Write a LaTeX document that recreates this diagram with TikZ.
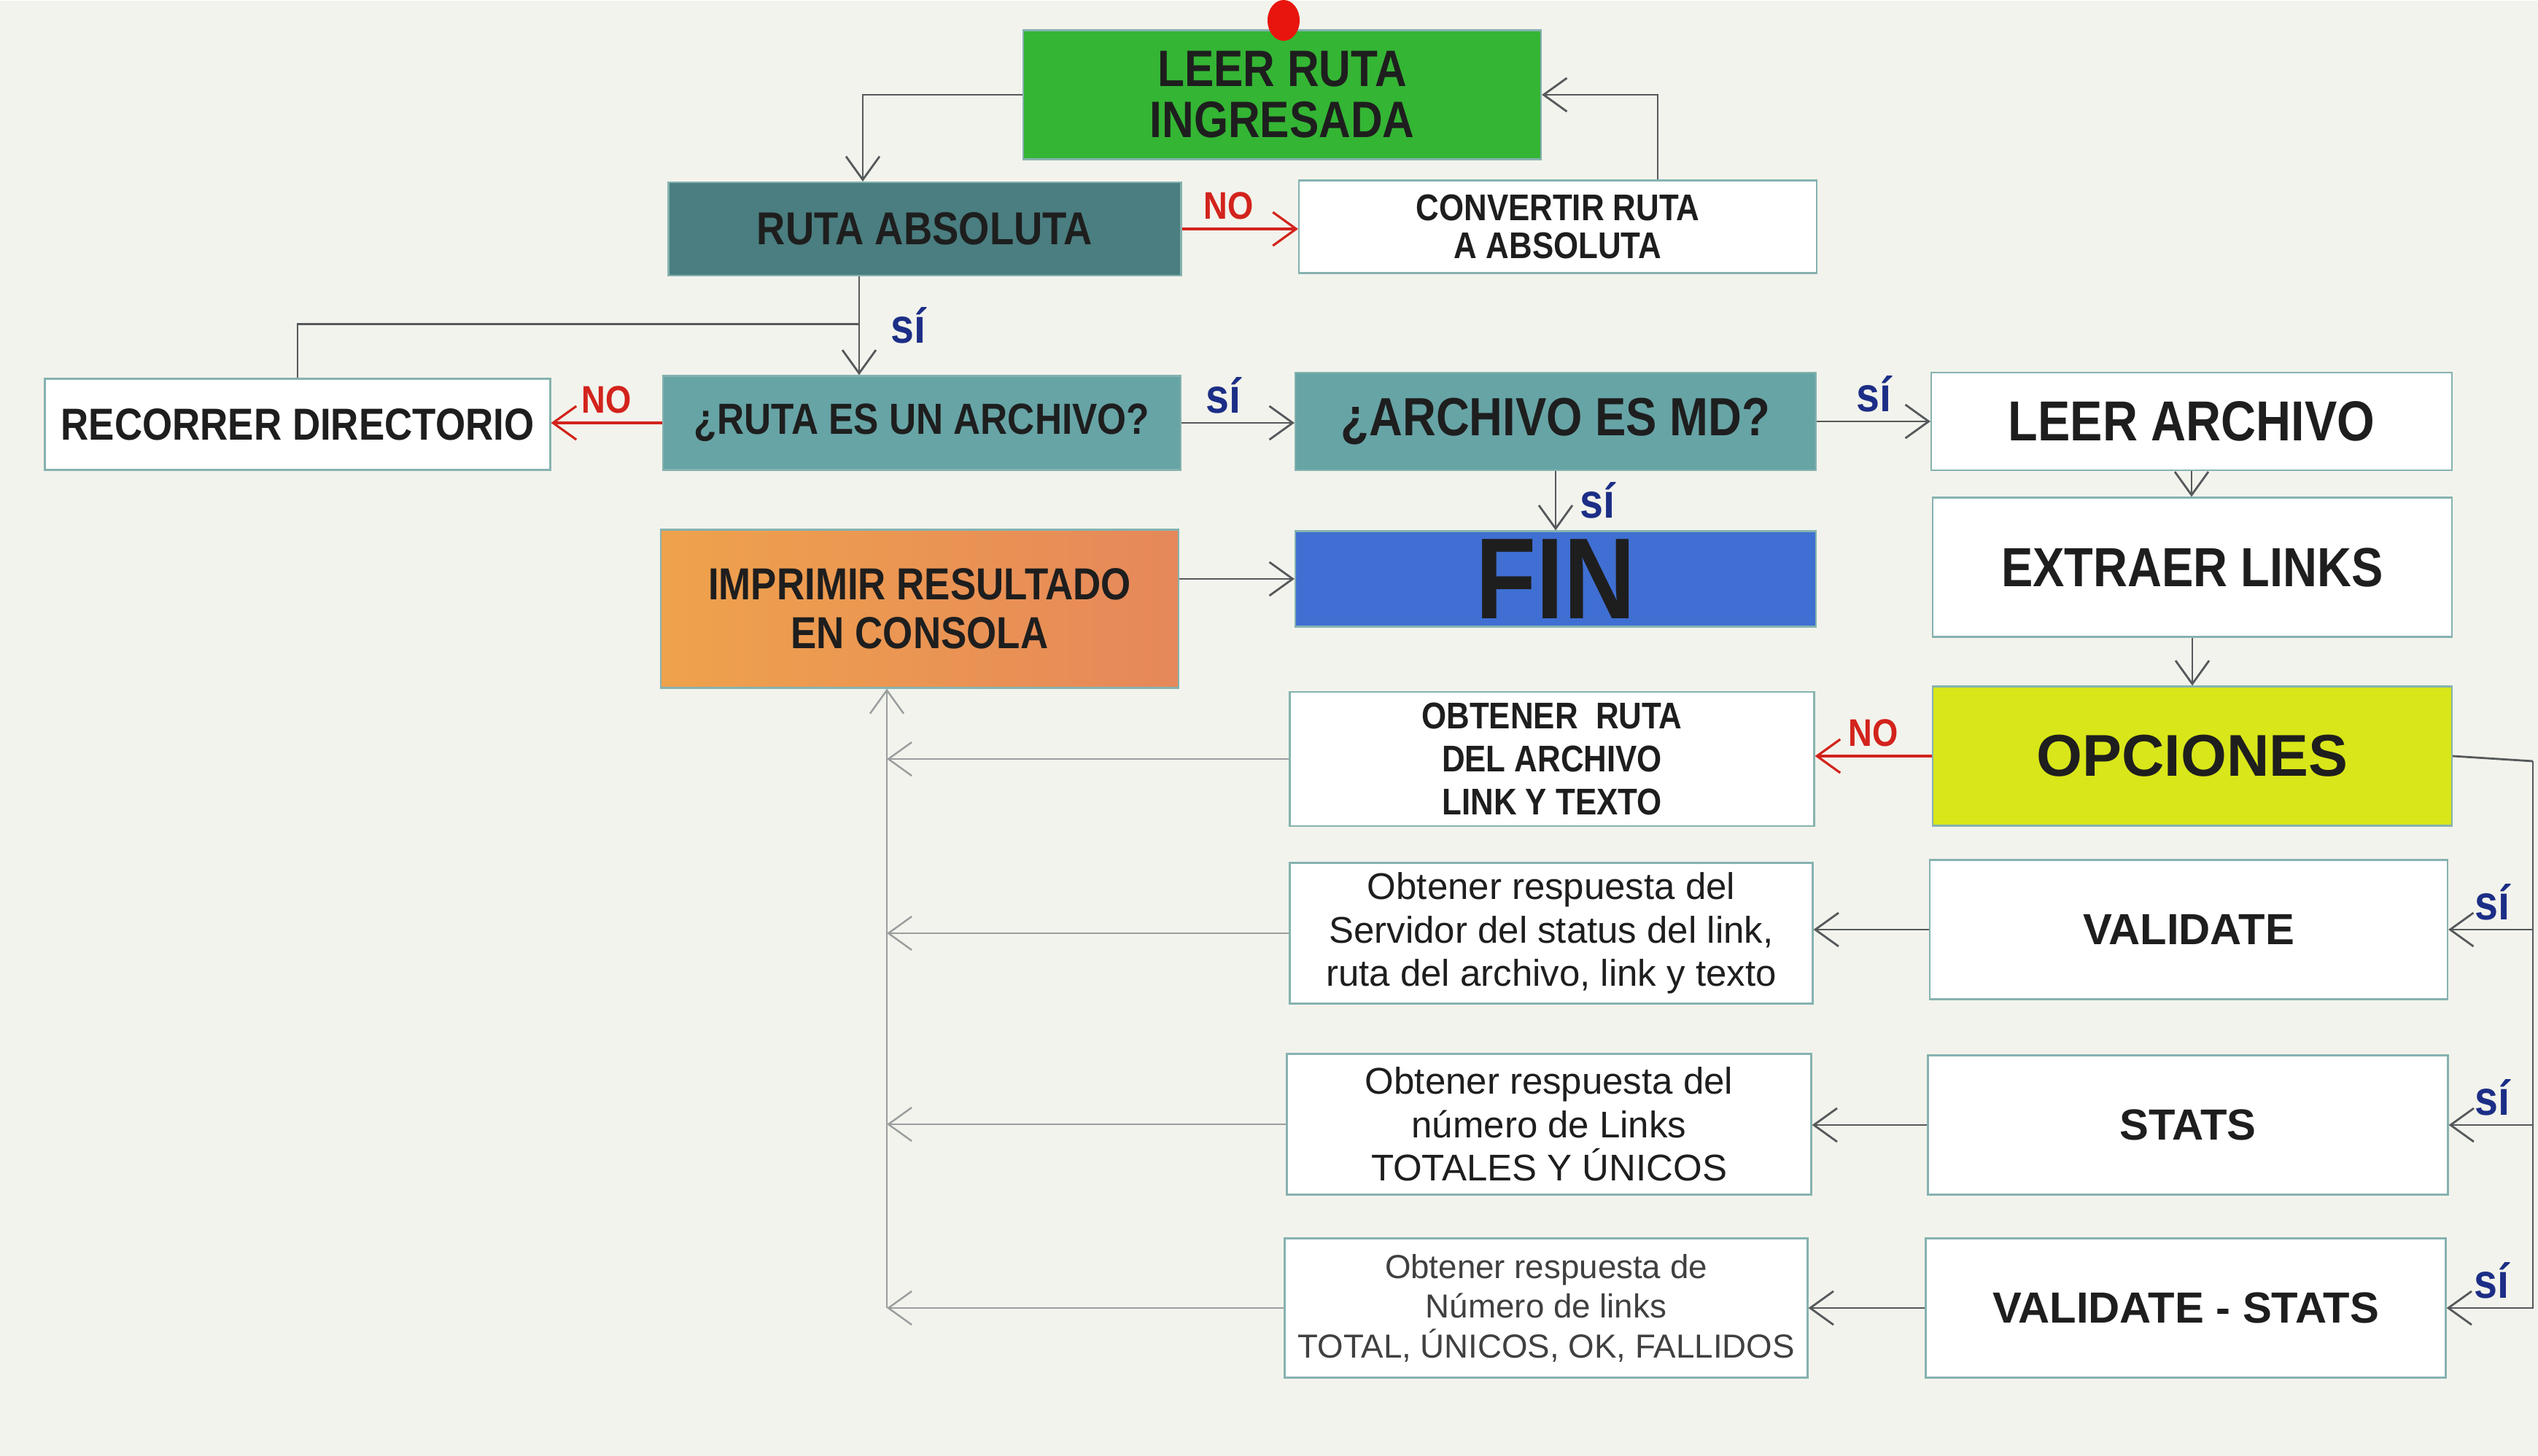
\documentclass[tikz,border=0pt]{standalone}
\usepackage{fontspec}
\setmainfont{Liberation Sans}
\newfontfamily\condfont{Liberation Sans}[FakeStretch=0.86]
\usetikzlibrary{arrows.meta}
\definecolor{Canvas}{HTML}{F2F3EC}
\definecolor{BoxLine}{HTML}{86B2B0}
\definecolor{LeafGreen}{HTML}{34B534}
\definecolor{SlateTeal}{HTML}{4A7E80}
\definecolor{QueryTeal}{HTML}{67A4A6}
\definecolor{FinBlue}{HTML}{3F6FD2}
\definecolor{OptLime}{HTML}{D9E619}
\definecolor{PrintOrange}{HTML}{EFA24C}
\definecolor{PrintYellow}{HTML}{F4CC5C}
\definecolor{PrintRed}{HTML}{E6885A}
\definecolor{WireGrey}{HTML}{55595B}
\definecolor{BusGrey}{HTML}{9A9E9E}
\definecolor{NoRed}{HTML}{D2231C}
\definecolor{SiBlue}{HTML}{1C2E86}
\definecolor{DotRed}{HTML}{E8150F}
\definecolor{InkDark}{HTML}{1E1E1E}

\begin{document}
\begin{tikzpicture}[>={Straight Barb[length=3.2mm,width=4.6mm]},every node/.style={text=InkDark},
box/.style={draw=BoxLine,line width=.6pt,minimum width=7.1cm,align=center,inner sep=2pt},
wire/.style={->,WireGrey,line width=.8pt},bus/.style={->,BusGrey,line width=.7pt},nowire/.style={->,NoRed,line width=.9pt},
no/.style={font=\condfont\bfseries\fontsize{15}{15}\selectfont,text=NoRed},si/.style={font=\condfont\bfseries\fontsize{19}{19}\selectfont,text=SiBlue}]
\fill[Canvas](0,0)rectangle(34.8,-19.96);
% top row
\node[box,fill=LeafGreen,minimum height=1.77cm,font=\condfont\bfseries\fontsize{20}{20}\selectfont](leer)at(17.58,-1.29){LEER RUTA\\INGRESADA};
\node[box,fill=SlateTeal,minimum width=7.03cm,minimum height=1.28cm,font=\condfont\bfseries\fontsize{18}{18}\selectfont](abs)at(12.68,-3.13){RUTA ABSOLUTA};
\node[box,fill=white,minimum height=1.27cm,font=\condfont\bfseries\fontsize{14.5}{15}\selectfont](conv)at(21.36,-3.10){CONVERTIR RUTA\\A ABSOLUTA};
\node[box,fill=white,minimum width=6.93cm,minimum height=1.25cm,font=\condfont\bfseries\fontsize{17.5}{18}\selectfont](recorrer)at(4.08,-5.81){RECORRER DIRECTORIO};
\node[box,fill=QueryTeal,minimum height=1.29cm,font=\condfont\bfseries\fontsize{17}{17}\selectfont](esarch)at(12.64,-5.79){¿RUTA ES UN ARCHIVO?};
\node[box,fill=QueryTeal,minimum width=7.14cm,minimum height=1.34cm,font=\condfont\bfseries\fontsize{21}{21}\selectfont](esmd)at(21.33,-5.77){¿ARCHIVO ES MD?};
\node[box,fill=white,minimum width=7.14cm,minimum height=1.34cm,font=\condfont\bfseries\fontsize{22}{22}\selectfont](leerarch)at(30.05,-5.77){LEER ARCHIVO};
% middle
\node[box,left color=PrintOrange,middle color=PrintYellow,right color=PrintRed,minimum height=2.17cm,font=\condfont\bfseries\fontsize{17.5}{19}\selectfont](imprimir)at(12.61,-8.34){IMPRIMIR RESULTADO\\EN CONSOLA};
\node[box,fill=FinBlue,minimum width=7.14cm,minimum height=1.31cm,font=\condfont\bfseries\fontsize{45}{45}\selectfont](fin)at(21.33,-7.93){FIN};
\node[box,fill=white,minimum width=7.12cm,minimum height=1.91cm,font=\condfont\bfseries\fontsize{21.5}{22}\selectfont](extraer)at(30.06,-7.77){EXTRAER LINKS};
\node[box,fill=OptLime,minimum width=7.12cm,minimum height=1.91cm,font=\bfseries\fontsize{23}{23}\selectfont](opciones)at(30.06,-10.36){OPCIONES};
\node[box,fill=white,minimum width=7.19cm,minimum height=1.84cm,font=\condfont\bfseries\fontsize{14.5}{16.8}\selectfont](obtruta)at(21.28,-10.40){OBTENER~ RUTA\\DEL ARCHIVO\\LINK Y TEXTO};
% options and answers
\node[box,fill=white,minimum width=7.17cm,minimum height=1.93cm,font=\fontsize{14.5}{17}\selectfont](obtserv)at(21.27,-12.79){Obtener respuesta del\\Servidor del status del link,\\ruta del archivo, link y texto};
\node[box,fill=white,minimum height=1.91cm,font=\bfseries\fontsize{17}{17}\selectfont](validate)at(30.01,-12.74){VALIDATE};
\node[box,fill=white,minimum width=7.19cm,minimum height=1.93cm,font=\fontsize{14.5}{17}\selectfont](obtnum)at(21.24,-15.41){Obtener respuesta del\\número de Links\\TOTALES Y ÚNICOS};
\node[box,fill=white,minimum width=7.13cm,minimum height=1.91cm,font=\bfseries\fontsize{17}{17}\selectfont](stats)at(30.00,-15.42){STATS};
\node[box,fill=white,minimum width=7.17cm,minimum height=1.91cm,text=InkDark!85,font=\fontsize{13}{15.5}\selectfont](obttot)at(21.20,-17.93){Obtener respuesta de\\Número de links\\TOTAL, ÚNICOS, OK, FALLIDOS};
\node[box,fill=white,minimum width=7.13cm,minimum height=1.91cm,font=\bfseries\fontsize{17}{17}\selectfont](valstats)at(29.97,-17.93){VALIDATE - STATS};
\fill[DotRed](17.6,-0.27)ellipse(0.22 and 0.28);
% connectors
\draw[wire](leer.west)-|([xshift=-8.5mm]abs.north);\draw[wire]([xshift=13.7mm]conv.north)|-(leer.east);
\draw[nowire](abs.east)--node[pos=.4,above,no]{NO}(abs.east-|conv.west);
\draw[wire]([xshift=-9mm]abs.south)--node[right=3mm,si]{sí}([xshift=-9mm]abs.south|-esarch.north);
\draw[wire,-](recorrer.north)|-([xshift=-9mm,yshift=7mm]abs.south|-esarch.north);
\draw[nowire](esarch.west)--node[above,no]{NO}(esarch.west-|recorrer.east);
\draw[wire](esarch.east)--node[pos=.37,above,si]{sí}(esarch.east-|esmd.west);\draw[wire](esmd.east)--node[above,si]{sí}(leerarch.west);
\draw[wire](esmd.south)--node[right=2mm,si]{sí}(fin.north);\draw[wire](fin.west-|imprimir.east)--(fin.west);
\draw[wire](leerarch.south)--(leerarch.south|-extraer.north);\draw[wire](extraer.south)--(opciones.north);
\draw[nowire](opciones.west)--node[above,no]{NO}(opciones.west-|obtruta.east);
\coordinate(rbus)at(34.73,-10.43);\draw[wire,-](opciones.east)--(rbus);
\foreach \n in {validate,stats,valstats}{\draw[wire](rbus)|-node[pos=.74,above,si]{sí}(\n.east);}
\draw[wire](validate.west)--(validate.west-|obtserv.east);\draw[wire](stats.west)--(stats.west-|obtnum.east);\draw[wire](valstats.west)--(valstats.west-|obttot.east);
\coordinate(lbus)at(12.16,-17.93);
\foreach \n in {obtruta,obtserv,obtnum,obttot}{\draw[bus](\n.west)--(\n.west-|lbus);}
\draw[bus](lbus)--(lbus|-imprimir.south);
\end{tikzpicture}
\end{document}
